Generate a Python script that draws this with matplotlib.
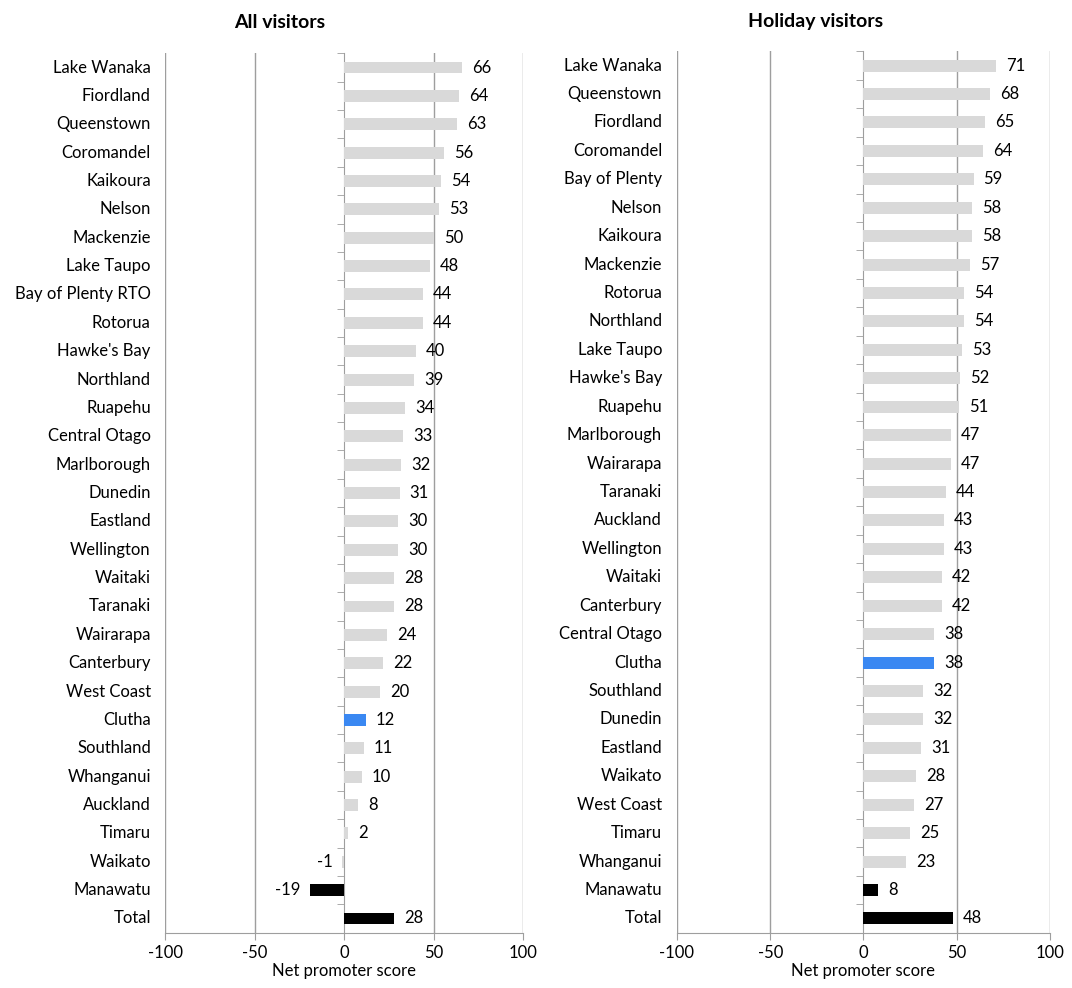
import numpy as np
import matplotlib
matplotlib.use("Agg")
import matplotlib.pyplot as plt
import matplotlib.transforms as mtransforms

plt.rcParams["font.family"] = ["Lato", "DejaVu Sans"]

# ─── data ────────────────────────────────────────────────────────────────────
all_regions = ["Lake Wanaka", "Fiordland", "Queenstown", "Coromandel", "Kaikoura",
               "Nelson", "Mackenzie", "Lake Taupo", "Bay of Plenty RTO", "Rotorua",
               "Hawke's Bay", "Northland", "Ruapehu", "Central Otago", "Marlborough",
               "Dunedin", "Eastland", "Wellington", "Waitaki", "Taranaki",
               "Wairarapa", "Canterbury", "West Coast", "Clutha", "Southland",
               "Whanganui", "Auckland", "Timaru", "Waikato", "Manawatu", "Total"]
all_scores = [66, 64, 63, 56, 54, 53, 50, 48, 44, 44, 40, 39, 34, 33, 32, 31, 30,
              30, 28, 28, 24, 22, 20, 12, 11, 10, 8, 2, -1, -19, 28]

hol_regions = ["Lake Wanaka", "Queenstown", "Fiordland", "Coromandel", "Bay of Plenty",
               "Nelson", "Kaikoura", "Mackenzie", "Rotorua", "Northland",
               "Lake Taupo", "Hawke's Bay", "Ruapehu", "Marlborough", "Wairarapa",
               "Taranaki", "Auckland", "Wellington", "Waitaki", "Canterbury",
               "Central Otago", "Clutha", "Southland", "Dunedin", "Eastland",
               "Waikato", "West Coast", "Timaru", "Whanganui", "Manawatu", "Total"]
hol_scores = [71, 68, 65, 64, 59, 58, 58, 57, 54, 54, 53, 52, 51, 47, 47, 44, 43,
              43, 42, 42, 38, 38, 32, 32, 31, 28, 27, 25, 23, 8, 48]

x_ticks = [-100, -50, 0, 50, 100]

GREY = "#D9D9D9"
BLUE = "#3A88F2"
BLACK = "#000000"
AXIS = "#9E9E9E"
FS = 12


def bar_colour(name):
    if name == "Clutha":
        return BLUE
    if name in ("Manawatu", "Total"):
        return BLACK
    return GREY


def draw_panel(ax, names, scores):
    n = len(names)
    y = np.arange(n)[::-1]
    ax.barh(y, scores, height=0.42, color=[bar_colour(s) for s in names], zorder=3)
    ax.set_xlim(-100, 100)
    ax.set_ylim(-0.5, n - 0.5)
    ax.set_xticks(x_ticks)
    ax.set_xticklabels([str(t) for t in x_ticks], fontsize=FS)
    ax.set_xlabel("Net promoter score", fontsize=FS, labelpad=1)
    ax.tick_params(axis="x", length=5, color=AXIS, pad=4)

    # vertical gridlines
    for t in x_ticks:
        if t != 0:
            ax.axvline(t, color=AXIS, lw=1.0, zorder=1)

    # category axis sits at zero, ticks at the boundaries
    ax.spines["left"].set_position(("data", 0))
    ax.spines["left"].set_color(AXIS)
    ax.spines["bottom"].set_color(AXIS)
    ax.spines["top"].set_visible(False)
    ax.spines["right"].set_visible(False)
    ax.set_yticks([])
    ax.set_yticks(np.arange(n + 1) - 0.5, minor=True)
    ax.tick_params(axis="y", which="minor", length=5, color=AXIS, direction="out")
    ax.yaxis.set_minor_formatter(plt.NullFormatter())

    trans = mtransforms.blended_transform_factory(ax.transAxes, ax.transData)
    for yi, name in zip(y, names):
        ax.text(-0.04, yi, name, transform=trans, ha="right", va="center", fontsize=FS)

    off = mtransforms.offset_copy
    for yi, v in zip(y, scores):
        if v >= 0:
            tr = off(ax.transData, fig=ax.figure, x=10, y=0, units="dots")
            ax.text(v, yi, str(v), transform=tr, ha="left", va="center", fontsize=FS)
        else:
            tr = off(ax.transData, fig=ax.figure, x=-10, y=0, units="dots")
            ax.text(v, yi, str(v), transform=tr, ha="right", va="center", fontsize=FS)


fig = plt.figure(figsize=(10.72, 9.88), dpi=100)
ax1 = fig.add_axes([0.154, 0.056, 0.334, 0.890])
ax2 = fig.add_axes([0.6315, 0.056, 0.348, 0.892])

draw_panel(ax1, all_regions, all_scores)
draw_panel(ax2, hol_regions, hol_scores)

fig.text(280 / 1072, 1 - 22 / 988, "All visitors", ha="center", va="center",
         fontsize=14, fontweight="bold")
fig.text(816 / 1072, 1 - 22 / 988, "Holiday visitors", ha="center", va="center",
         fontsize=14, fontweight="bold")

fig.savefig("out.png", dpi=100)
plt.close(fig)
